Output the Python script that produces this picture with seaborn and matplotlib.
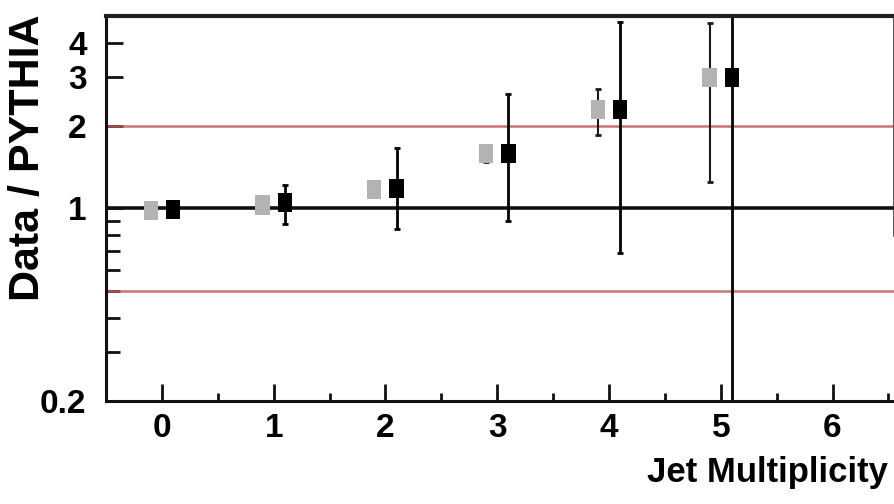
import matplotlib
matplotlib.use("Agg")
import matplotlib.pyplot as plt
from matplotlib import font_manager
from matplotlib.ticker import FixedLocator, FixedFormatter, NullFormatter
import numpy as np
import pandas as pd
import seaborn as sns

# Ratio of data to PYTHIA versus jet multiplicity
jet_mult = [0, 1, 2, 3, 4, 5]

# light series (left of each bin) and dark series (right of each bin)
ratio_light = [0.98, 1.03, 1.17, 1.58, 2.28, 2.98]
light_err_lo = [0.02, 0.03, 0.04, 0.11, 0.43, 1.73]
light_err_hi = [0.02, 0.03, 0.04, 0.11, 0.44, 1.74]

ratio_dark = [0.99, 1.05, 1.18, 1.58, 2.28, 2.98]
dark_err_lo = [0.03, 0.17, 0.34, 0.68, 1.59, 2.90]
dark_err_hi = [0.03, 0.17, 0.48, 1.03, 2.48, 7.00]

x_offset = 0.1
band_lines = [0.5, 2.0]

ytick_vals = [0.2, 1, 2, 3, 4]
ytick_labels = ["0.2", "1", "2", "3", "4"]
yminor_vals = [0.3, 0.4, 0.5, 0.6, 0.7, 0.8, 0.9]

sns.set_theme(style="ticks")
plt.rcParams["font.family"] = ["Liberation Sans", "DejaVu Sans"]
plt.rcParams["font.weight"] = "bold"
plt.rcParams["text.color"] = "black"
plt.rcParams["axes.labelcolor"] = "black"
plt.rcParams["xtick.color"] = "black"
plt.rcParams["ytick.color"] = "black"

# condensed face for the tick numbers when it is available
installed = {f.name for f in font_manager.fontManager.ttflist}
if "Liberation Sans Narrow" in installed:
    tick_family, tick_size = "Liberation Sans Narrow", 29
else:
    tick_family, tick_size = "Liberation Sans", 24

fig = plt.figure(figsize=(8.95, 5.04), dpi=100)
ax = fig.add_axes([0.1184, 0.2044, 0.8805, 0.7639])

df = pd.DataFrame({
    "x": [v - x_offset for v in jet_mult] + [v + x_offset for v in jet_mult],
    "ratio": ratio_light + ratio_dark,
    "series": ["light"] * len(jet_mult) + ["dark"] * len(jet_mult),
})

# reference lines
ax.axhline(1.0, color="#111111", lw=2.6, zorder=1)
for yv in band_lines:
    ax.axhline(yv, color="#c25b5b", lw=1.8, alpha=0.85, zorder=1)

# error bars
ax.errorbar([v - x_offset for v in jet_mult], ratio_light,
            yerr=[light_err_lo, light_err_hi], fmt="none",
            ecolor="#1a1a1a", elinewidth=1.5, capsize=2, capthick=2, zorder=2)
ax.errorbar([v + x_offset for v in jet_mult], ratio_dark,
            yerr=[dark_err_lo, dark_err_hi], fmt="none",
            ecolor="#000000", elinewidth=2.0, capsize=2, capthick=2, zorder=2)

rect = [(-0.75, -1), (0.75, -1), (0.75, 1), (-0.75, 1), (-0.75, -1)]
sns.scatterplot(data=df, x="x", y="ratio", hue="series",
                palette={"light": "#b3b3b3", "dark": "#000000"},
                marker=rect, s=190, linewidth=0, legend=False, ax=ax, zorder=3)

ax.set_yscale("log")
ax.set_ylim(0.2, 5.0)
ax.set_xlim(-0.5, 6.55)

ax.yaxis.set_major_locator(FixedLocator(ytick_vals))
ax.yaxis.set_major_formatter(FixedFormatter(ytick_labels))
ax.yaxis.set_minor_locator(FixedLocator(yminor_vals))
ax.yaxis.set_minor_formatter(NullFormatter())
ax.set_xticks(jet_mult + [6])
ax.set_xticks(np.arange(-0.5, 6.6, 0.5), minor=True)

ax.tick_params(axis="both", which="major", direction="in", length=12, width=2,
               labelsize=tick_size, color="#111111")
ax.tick_params(axis="y", which="minor", direction="in", length=10, width=2,
               color="#111111")
ax.tick_params(axis="x", which="minor", direction="in", length=6, width=2,
               color="#111111")
ax.tick_params(axis="y", which="major", pad=14)
ax.tick_params(axis="x", which="major", pad=9)
for lab in ax.get_xticklabels() + ax.get_yticklabels():
    lab.set_fontweight("bold")
    lab.set_family([tick_family, "Liberation Sans", "DejaVu Sans"])
    lab.set_color("black")

for side in ["left", "bottom"]:
    ax.spines[side].set_linewidth(2.2)
    ax.spines[side].set_color("#111111")
ax.spines["top"].set_linewidth(3.0)
ax.spines["top"].set_color("#222222")
ax.spines["right"].set_linewidth(1.8)
ax.spines["right"].set_color("#222222")
ax.spines["right"].set_bounds(0.8, 5.0)

ax.set_xlabel("Jet Multiplicity", fontsize=25, fontweight="bold",
              ha="right", va="top", color="black")
ax.xaxis.set_label_coords(0.992, -0.142)
ax.set_ylabel("Data / PYTHIA", fontsize=31, fontweight="bold", va="center",
              color="black")
ax.yaxis.set_label_coords(-0.099, 0.631)

fig.savefig("out.png", dpi=100)
